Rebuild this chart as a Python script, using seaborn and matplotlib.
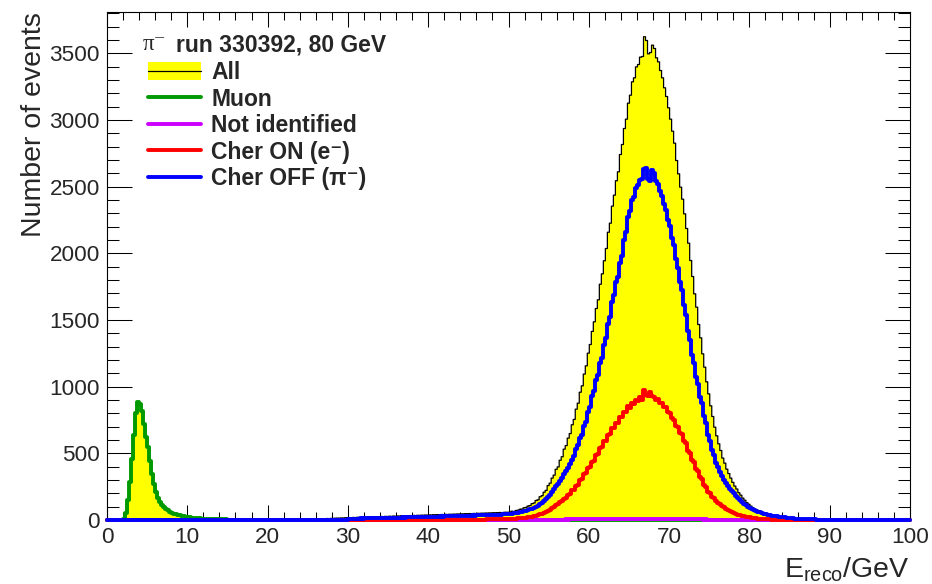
import numpy as np
import matplotlib
matplotlib.use("Agg")
import matplotlib.pyplot as plt
import seaborn as sns
from matplotlib.lines import Line2D
from matplotlib.patches import Patch
from matplotlib.ticker import MultipleLocator

# ---------------- data (bin contents, 0.25 GeV bins) ----------------
BIN_WIDTH = 0.25
X_MIN, X_MAX = 0.0, 100.0
Y_MAX = 3810

muon_start = 2.0
muon = [8, 55, 150, 285, 455, 640, 805, 885,
        870, 815, 720, 625, 545, 445, 345, 272,
        212, 168, 138, 116, 100, 86, 73, 63,
        55, 48, 43, 38, 34, 30, 27, 25,
        22, 20, 18, 16, 15, 13, 12, 11,
        10, 9, 8, 7, 7, 6, 6, 5,
        5, 4, 4, 4, 3, 3, 3, 2]

all_tail_start = 20.0
all_tail = [4, 5, 4, 6, 5, 6, 6, 5,
            6, 7, 6, 8, 7, 8, 8, 9,
            9, 8, 10, 9, 11, 10, 11, 12,
            12, 13, 12, 14, 13, 15, 14, 16,
            16, 17, 18, 17, 19, 18, 20, 21,
            22, 21, 23, 22, 24, 23, 25, 24,
            26, 25, 27, 26, 28, 27, 29, 28,
            30, 29, 31, 30, 32, 31, 33, 32,
            34, 33, 35, 34, 36, 35, 37, 36,
            38, 37, 39, 38, 40, 39, 41, 40,
            42, 41, 43, 42, 44, 43, 45, 44,
            46, 45, 47, 46, 48, 47, 49, 48,
            50, 49, 51, 50, 52, 51, 53, 52,
            54, 53, 55, 54, 56, 55, 57, 56,
            58, 57, 59, 60, 59, 61, 62, 61]

all_peak_start = 50.0
all_peak = [63, 70, 66, 75, 77, 84, 86, 95,
            98, 108, 112, 126, 131, 150, 155, 178,
            186, 212, 226, 262, 280, 318, 340, 384,
            402, 452, 478, 535, 562, 618, 652, 718,
            758, 835, 880, 962, 1010, 1098, 1160, 1255,
            1320, 1418, 1490, 1590, 1655, 1772, 1850, 1948,
            2040, 2162, 2230, 2358, 2440, 2548, 2615, 2745,
            2820, 2940, 3010, 3130, 3190, 3290, 3320, 3402,
            3420, 3475, 3480, 3628, 3600, 3500, 3510, 3565,
            3540, 3470, 3440, 3375, 3320, 3245, 3180, 3095,
            3010, 2920, 2830, 2700, 2600, 2500, 2410, 2300,
            2190, 2080, 1950, 1830, 1700, 1600, 1470, 1370,
            1250, 1150, 1040, 950, 860, 780, 700, 635,
            575, 525, 468, 430, 385, 352, 318, 286,
            258, 236, 208, 190, 168, 152, 134, 122,
            108, 97, 87, 80, 72, 65, 58, 54,
            48, 44, 40, 36, 33, 30, 27, 25,
            22, 20, 17, 16, 14, 13, 11, 10,
            9, 9, 7, 7, 6, 5, 5, 4,
            4, 3, 3, 2, 2, 2, 1, 1]

cher_off_tail_start = 30.0
cher_off_tail = [9, 10, 9, 11, 10, 11, 12, 11,
                 12, 13, 12, 13, 14, 13, 14, 15,
                 14, 15, 16, 15, 16, 17, 16, 17,
                 18, 17, 18, 19, 18, 20, 19, 20,
                 21, 20, 22, 21, 22, 23, 22, 24,
                 23, 24, 25, 24, 26, 25, 27, 26,
                 27, 28, 27, 29, 28, 30, 29, 31,
                 30, 31, 32, 31, 33, 32, 34, 33,
                 35, 34, 36, 35, 37, 36, 38, 37,
                 39, 38, 40, 41, 40, 42, 43, 42]

cher_off_start = 50.0
cher_off = [44, 47, 49, 52, 54, 57, 61, 64,
            68, 73, 79, 86, 93, 101, 108, 118,
            127, 142, 155, 175, 190, 212, 232, 255,
            272, 296, 318, 342, 366, 392, 418, 452,
            480, 535, 560, 615, 640, 705, 738, 810,
            848, 928, 968, 1052, 1088, 1175, 1218, 1315,
            1365, 1468, 1522, 1634, 1684, 1782, 1826, 1930,
            1982, 2100, 2162, 2270, 2315, 2398, 2426, 2492,
            2515, 2548, 2560, 2630, 2640, 2560, 2540, 2625,
            2605, 2540, 2522, 2468, 2432, 2370, 2325, 2250,
            2205, 2118, 2064, 1955, 1890, 1786, 1728, 1610,
            1538, 1418, 1350, 1240, 1178, 1074, 1018, 926,
            878, 782, 728, 640, 596, 522, 486, 428,
            396, 362, 330, 302, 276, 254, 236, 218,
            200, 182, 166, 150, 136, 122, 110, 100,
            90, 82, 74, 68, 62, 57, 52, 47,
            43, 39, 36, 33, 30, 27, 25, 23,
            21, 19, 17, 15, 14, 12, 11, 10,
            9, 8, 7, 6, 6, 5, 5, 4,
            4, 3, 3, 2, 2, 2, 1, 1]

cher_on_start = 46.0
cher_on = [2, 2, 3, 3, 3, 4, 4, 5,
           5, 5, 6, 6, 7, 7, 8, 8,
           8, 9, 10, 11, 12, 13, 15, 16,
           17, 19, 22, 26, 29, 33, 38, 44,
           48, 55, 60, 70, 78, 89, 98, 110,
           118, 132, 140, 160, 164, 188, 194, 222,
           228, 258, 262, 298, 306, 348, 350, 390,
           394, 436, 444, 488, 496, 538, 546, 590,
           596, 640, 644, 688, 690, 730, 728, 772,
           770, 812, 808, 852, 842, 880, 870, 900,
           890, 920, 900, 975, 940, 930, 962, 928,
           922, 900, 905, 880, 878, 850, 845, 812,
           805, 762, 750, 706, 698, 650, 645, 590,
           576, 520, 506, 450, 436, 384, 370, 320,
           305, 262, 250, 212, 204, 170, 165, 140,
           130, 117, 104, 94, 85, 75, 66, 58,
           52, 46, 41, 36, 32, 28, 25, 22,
           19, 16, 14, 12, 10, 9, 7, 6,
           5, 4, 4, 3, 3, 2, 2, 1,
           1, 1, 1, 1, 0, 0, 0, 0]

not_id_start = 54.0
not_id = [1, 1, 2, 1, 2, 2, 2, 3,
          2, 3, 3, 3, 4, 3, 4, 4,
          4, 5, 4, 5, 5, 6, 5, 6,
          6, 6, 7, 6, 7, 7, 8, 7,
          8, 8, 7, 9, 8, 9, 8, 9,
          9, 8, 9, 10, 9, 9, 10, 9,
          10, 9, 10, 10, 9, 10, 9, 10,
          9, 10, 9, 9, 8, 9, 8, 8,
          8, 7, 8, 7, 7, 6, 7, 6,
          6, 5, 6, 5, 5, 4, 5, 4,
          4, 3, 4, 3, 3, 2, 3, 2,
          2, 2, 2, 1, 2, 1, 1, 1,
          1, 1, 1, 0, 1, 0, 0, 0]

legend_title = "run 330392, 80 GeV"
legend_labels = ["All", "Muon", "Not identified", "Cher ON (e\u207b)", "Cher OFF (\u03c0\u207b)"]
x_label = r"$\mathrm{E_{reco}/GeV}$"
y_label = "Number of events"

COL_ALL = "#ffff00"
COL_MUON = "#009900"
COL_NOTID = "#cc00ff"
COL_ON = "#ff0000"
COL_OFF = "#0000ff"

# ---------------- histogram assembly ----------------
edges = np.arange(X_MIN, X_MAX + BIN_WIDTH / 2, BIN_WIDTH)
centers = edges[:-1] + BIN_WIDTH / 2
nbins = len(centers)
bin_list = [float(e) for e in edges]


def place(start, values):
    h = np.zeros(nbins)
    i0 = int(round((start - X_MIN) / BIN_WIDTH))
    h[i0:i0 + len(values)] = values
    return h


h_muon = place(muon_start, muon)
h_all = h_muon + place(all_tail_start, all_tail) + place(all_peak_start, all_peak)
h_off = place(cher_off_tail_start, cher_off_tail) + place(cher_off_start, cher_off)
h_on = place(cher_on_start, cher_on)
h_notid = place(not_id_start, not_id)

# ---------------- style ----------------
sns.set_style("ticks")
plt.rcParams["font.family"] = ["Liberation Sans", "DejaVu Sans"]
plt.rcParams["mathtext.fontset"] = "custom"
plt.rcParams["mathtext.rm"] = "Liberation Sans"
plt.rcParams["mathtext.it"] = "Liberation Sans:italic"
plt.rcParams["mathtext.bf"] = "Liberation Sans:bold"

W, H = 932, 584
fig = plt.figure(figsize=(W / 100, H / 100), dpi=100)
fig.patch.set_facecolor("white")
ax = fig.add_axes([107 / W, 1 - 520 / H, 803 / W, 508 / H])
ax.set_facecolor("white")

LW = 2.8
sns.histplot(x=centers, weights=h_all, bins=bin_list, element="step", fill=True,
             color=COL_ALL, alpha=1, edgecolor="black", linewidth=0.9, ax=ax, zorder=1)
sns.histplot(x=centers, weights=h_muon, bins=bin_list, element="step", fill=False,
             color=COL_MUON, linewidth=LW, ax=ax, zorder=3, clip_on=False)
sns.histplot(x=centers, weights=h_notid, bins=bin_list, element="step", fill=False,
             color=COL_NOTID, linewidth=LW, ax=ax, zorder=3.1, clip_on=False)
sns.histplot(x=centers, weights=h_on, bins=bin_list, element="step", fill=False,
             color=COL_ON, linewidth=LW, ax=ax, zorder=3.2, clip_on=False)
sns.histplot(x=centers, weights=h_off, bins=bin_list, element="step", fill=False,
             color=COL_OFF, linewidth=LW, ax=ax, zorder=3.3, clip_on=False)

ax.set_xlim(X_MIN, X_MAX)
ax.set_ylim(0, Y_MAX)

for sp in ax.spines.values():
    sp.set_visible(True)
    sp.set_linewidth(0.8)
    sp.set_color("black")

ax.xaxis.set_major_locator(MultipleLocator(10))
ax.xaxis.set_minor_locator(MultipleLocator(2))
ax.yaxis.set_major_locator(MultipleLocator(500))
ax.yaxis.set_minor_locator(MultipleLocator(100))
ax.tick_params(which="both", direction="in", top=True, right=True, width=0.75, color="black")
ax.tick_params(axis="x", which="major", length=10.8, labelsize=16.2, pad=5)
ax.tick_params(axis="x", which="minor", length=5.6)
ax.tick_params(axis="y", which="major", length=18, labelsize=16.2, pad=5)
ax.tick_params(axis="y", which="minor", length=8.5)

ax.set_xlabel(x_label, fontsize=20.5, loc="right")
ax.xaxis.set_label_coords(1.0, (520 - 556) / 508)
ax.set_ylabel(y_label, fontsize=20.5, loc="top")
ax.yaxis.set_label_coords((47 - 107) / 803, 1.0)

# legend
handles = [
    (Patch(facecolor=COL_ALL, edgecolor="none"), Line2D([], [], color="black", lw=0.9)),
    Line2D([], [], color=COL_MUON, lw=LW),
    Line2D([], [], color=COL_NOTID, lw=LW),
    Line2D([], [], color=COL_ON, lw=LW),
    Line2D([], [], color=COL_OFF, lw=LW),
]
leg = ax.legend(handles=handles, labels=legend_labels, loc="upper left",
                bbox_to_anchor=((148 - 107) / 803, (520 - 61) / 508),
                frameon=False, borderaxespad=0, borderpad=0,
                handlelength=2.3, handleheight=0.83, handletextpad=0.45,
                labelspacing=0.155,
                prop={"family": ["Liberation Sans", "DejaVu Sans"], "weight": "bold", "size": 16.5})
ax.text((143 - 107) / 803, (520 - 45) / 508, "\u03c0\u207b", transform=ax.transAxes,
        ha="left", va="center", fontsize=16.5, family=["Liberation Serif", "DejaVu Serif"])
ax.text((176 - 107) / 803, (520 - 45) / 508, legend_title, transform=ax.transAxes,
        ha="left", va="center", fontsize=16.5, fontweight="bold",
        family=["Liberation Sans", "DejaVu Sans"])

fig.savefig("out.png", dpi=100, facecolor="white")
